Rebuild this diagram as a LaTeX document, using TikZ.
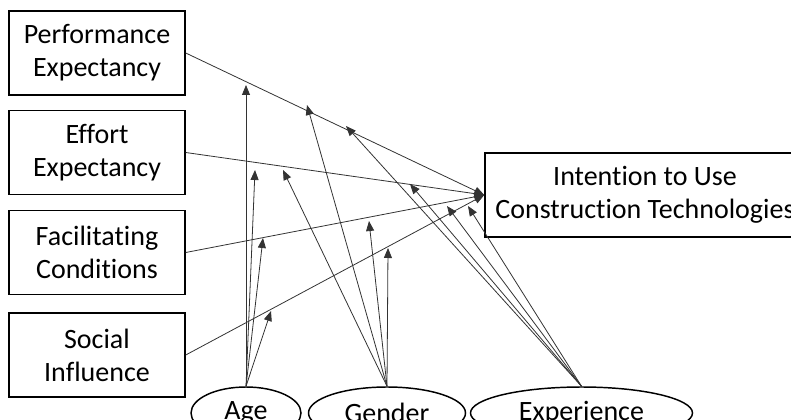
\documentclass[tikz,border=0pt]{standalone}
\usepackage{fontspec}
\setmainfont[Ligatures=NoCommon]{Carlito}
\usetikzlibrary{arrows.meta,shapes.geometric}
\begin{document}
\begin{tikzpicture}[x=0.75pt,y=-0.75pt,
  lbl/.style={font=\fontsize{21}{24.75}\selectfont, align=center},
  box/.style={lbl, draw, line width=1.1pt, minimum width=132pt, minimum height=63pt, inner sep=0pt},
  oval/.style={lbl, draw, ellipse, line width=1.1pt, minimum height=39pt, inner sep=0pt},
  arr/.style={draw=black!80, line width=0.6pt, -{Triangle[length=7.5pt,width=6pt]}}]
\useasboundingbox (0,0) rectangle (791,420);
\node[box] (pe) at (97,53) {Performance\\Expectancy};
\node[box] (ee) at (97,152.5) {Effort\\Expectancy};
\node[box] (fc) at (97,252.5) {Facilitating\\Conditions};
\node[box] (si) at (97,355) {Social\\Influence};
\node[box, minimum width=240pt] (int) at (645,195) {Intention to Use\\Construction Technologies};
\node[oval, minimum width=82.5pt] (age) at (246,413) {Age};
\node[oval, minimum width=117.75pt] (gen) at (387,413) {Gender};
\node[oval, minimum width=166.5pt] (exp) at (581.5,413) {Experience};
\coordinate (a1) at (246,85);
\coordinate (a2) at (255,170);
\coordinate (a3) at (263,238);
\coordinate (a4) at (271,311);
\coordinate (g1) at (307,105);
\coordinate (g2) at (283,170);
\coordinate (g3) at (369,221);
\coordinate (g4) at (388,248);
\coordinate (e1) at (346,126);
\coordinate (e2) at (410,184);
\coordinate (e3) at (447,206);
\coordinate (e4) at (468,206);
\foreach \s in {pe,ee,fc,si} \draw[arr] (\s.east) -- (int.west);
\foreach \t in {a1,a2,a3,a4} \draw[arr] (age.north) -- (\t);
\foreach \t in {g1,g2,g3,g4} \draw[arr] (gen.north) -- (\t);
\foreach \t in {e1,e2,e3,e4} \draw[arr] (exp.north) -- (\t);
\end{tikzpicture}
\end{document}
